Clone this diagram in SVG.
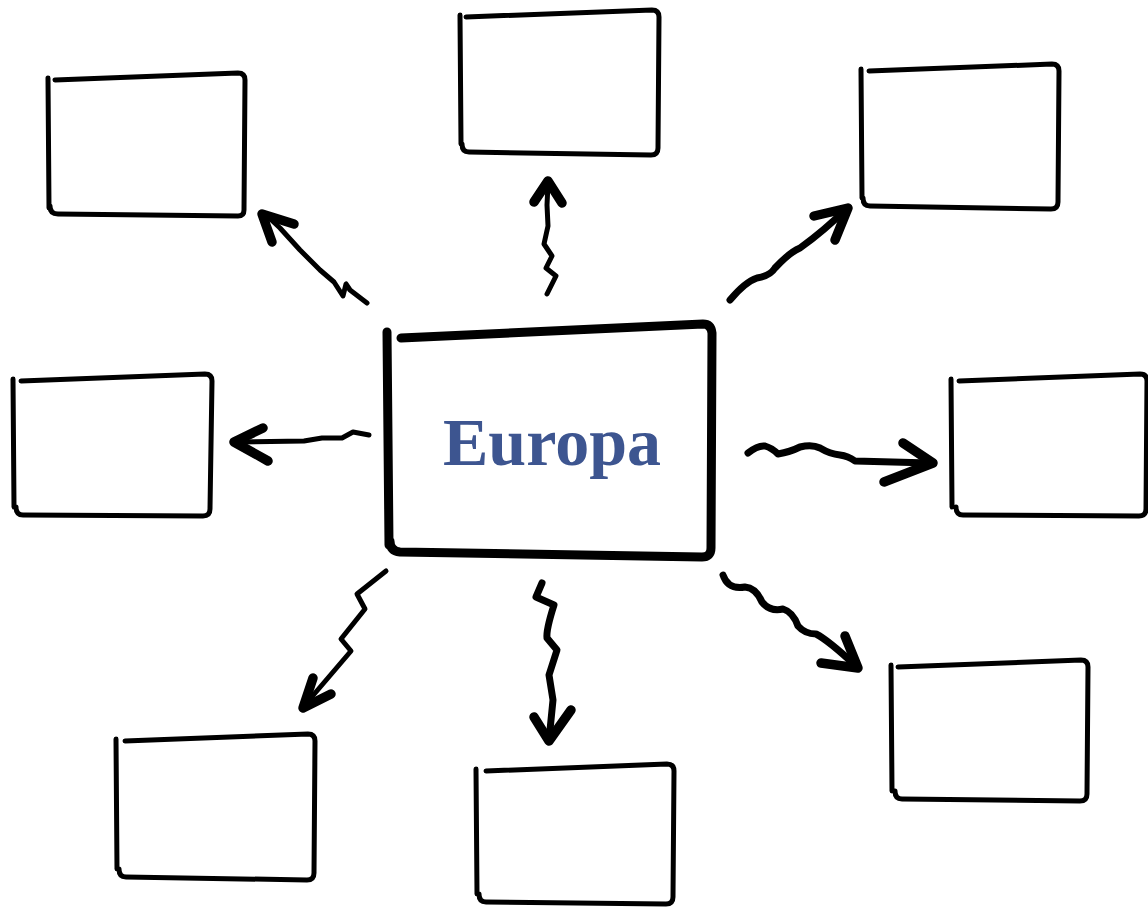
<svg xmlns="http://www.w3.org/2000/svg" width="1148" height="908" viewBox="0 0 1148 908">
<style>
.box{fill:none;stroke:#000;stroke-width:5;stroke-linecap:round;stroke-linejoin:round}
.main{fill:none;stroke:#000;stroke-width:9;stroke-linecap:round;stroke-linejoin:round}
.c{fill:none;stroke:#000;stroke-linecap:round;stroke-linejoin:round}
.t1{stroke-width:5}
.t2{stroke-width:7}
.t3{stroke-width:9.5}
.lbl{font-family:"Liberation Serif","DejaVu Serif",serif;font-weight:bold;font-size:68px;fill:#3d5590}
</style>
<rect width="1148" height="908" fill="#fff"/>
<g id="node-tl"><path class="box" d="M55,80 L238,73 Q245,73 245,80 L244,210 Q244,216 238,216 L58,214 Q50,214 50,206 M48,78 L49,208"/></g>
<g id="node-t"><path class="box" d="M466,17 L652,10 Q659,10 659,17 L658,148 Q658,155 651,155 L469,152 Q462,152 462,144 M460,15 L461,144"/></g>
<g id="node-tr"><path class="box" d="M869,71 L1052,64 Q1059,64 1059,71 L1058,202 Q1058,209 1051,209 L870,206 Q863,206 863,198 M861,69 L862,198"/></g>
<g id="node-l"><path class="box" d="M21,381 L205,374 Q212,374 212,381 L210,509 Q210,516 203,516 L23,515 Q16,515 16,507 M13,379 L14,507"/></g>
<g id="node-r"><path class="box" d="M959,381 L1140,374 Q1147,374 1147,381 L1146,509 Q1146,516 1139,516 L963,515 Q956,515 956,507 M951,379 L952,507"/></g>
<g id="node-bl"><path class="box" d="M125,741 L308,734 Q315,734 315,741 L314,873 Q314,880 307,880 L126,877 Q119,877 119,869 M116,739 L117,869"/></g>
<g id="node-b"><path class="box" d="M486,771 L667,764 Q674,764 674,771 L673,897 Q673,904 666,904 L486,902 Q479,902 479,894 M476,769 L477,894"/></g>
<g id="node-br"><path class="box" d="M898,667 L1081,660 Q1088,660 1088,667 L1087,794 Q1087,801 1080,801 L902,799 Q895,799 895,791 M891,665 L892,791"/></g>
<g id="node-center"><path class="main" d="M401,338 L703,324 Q711,324 712,333 L711,548 Q711,557 702,557 L400,552 Q390,551 390,541 M387,332 L389,545"/><text class="lbl" x="443" y="465">Europa</text></g>
<g id="connectors">
<path class="c t1" d="M367,303 L350,290 L346,284 L343,296 L334,282 L320,270 L300,250 L280,228 L264,213"/>
<path class="c t3" d="M272,242 L262,214 L294,224"/>
<path class="c t1" d="M547,294 L556,276 L546,268 L552,256 L544,244 L548,226 L547,205 L548,184"/>
<path class="c t3" d="M534,202 L548,181 L562,203"/>
<path class="c t2" d="M730,300 Q745,282 757,278 Q770,276 775,268 Q790,252 800,248 Q825,230 846,209"/>
<path class="c t3" d="M814,216 L848,208 L835,240"/>
<path class="c t1" d="M369,435 L353,432 L342,438 L322,438 L304,441 L236,442"/>
<path class="c t3" d="M263,428 L234,442 L268,461"/>
<path class="c t2" d="M748,453 Q758,445 765,446 Q772,448 778,454 Q790,452 800,447 Q812,444 820,448 Q830,454 840,455 Q848,456 855,461 L930,463"/>
<path class="c t3" d="M903,443 L933,463 L884,482"/>
<path class="c t1" d="M386,571 L357,594 L365,609 L341,639 L351,651 L304,706"/>
<path class="c t3" d="M313,678 L303,708 L331,694"/>
<path class="c t2" d="M542,583 L536,597 L554,605 Q546,630 547,638 L557,650 L549,675 L553,700 L549,740"/>
<path class="c t3" d="M534,717 L549,741 L571,710"/>
<path class="c t2" d="M723,575 Q728,590 745,587 Q756,588 762,602 Q770,612 783,609 Q793,612 798,626 Q805,634 816,634 Q828,640 856,666"/>
<path class="c t3" d="M845,636 L858,668 L821,663"/>
</g>
</svg>
